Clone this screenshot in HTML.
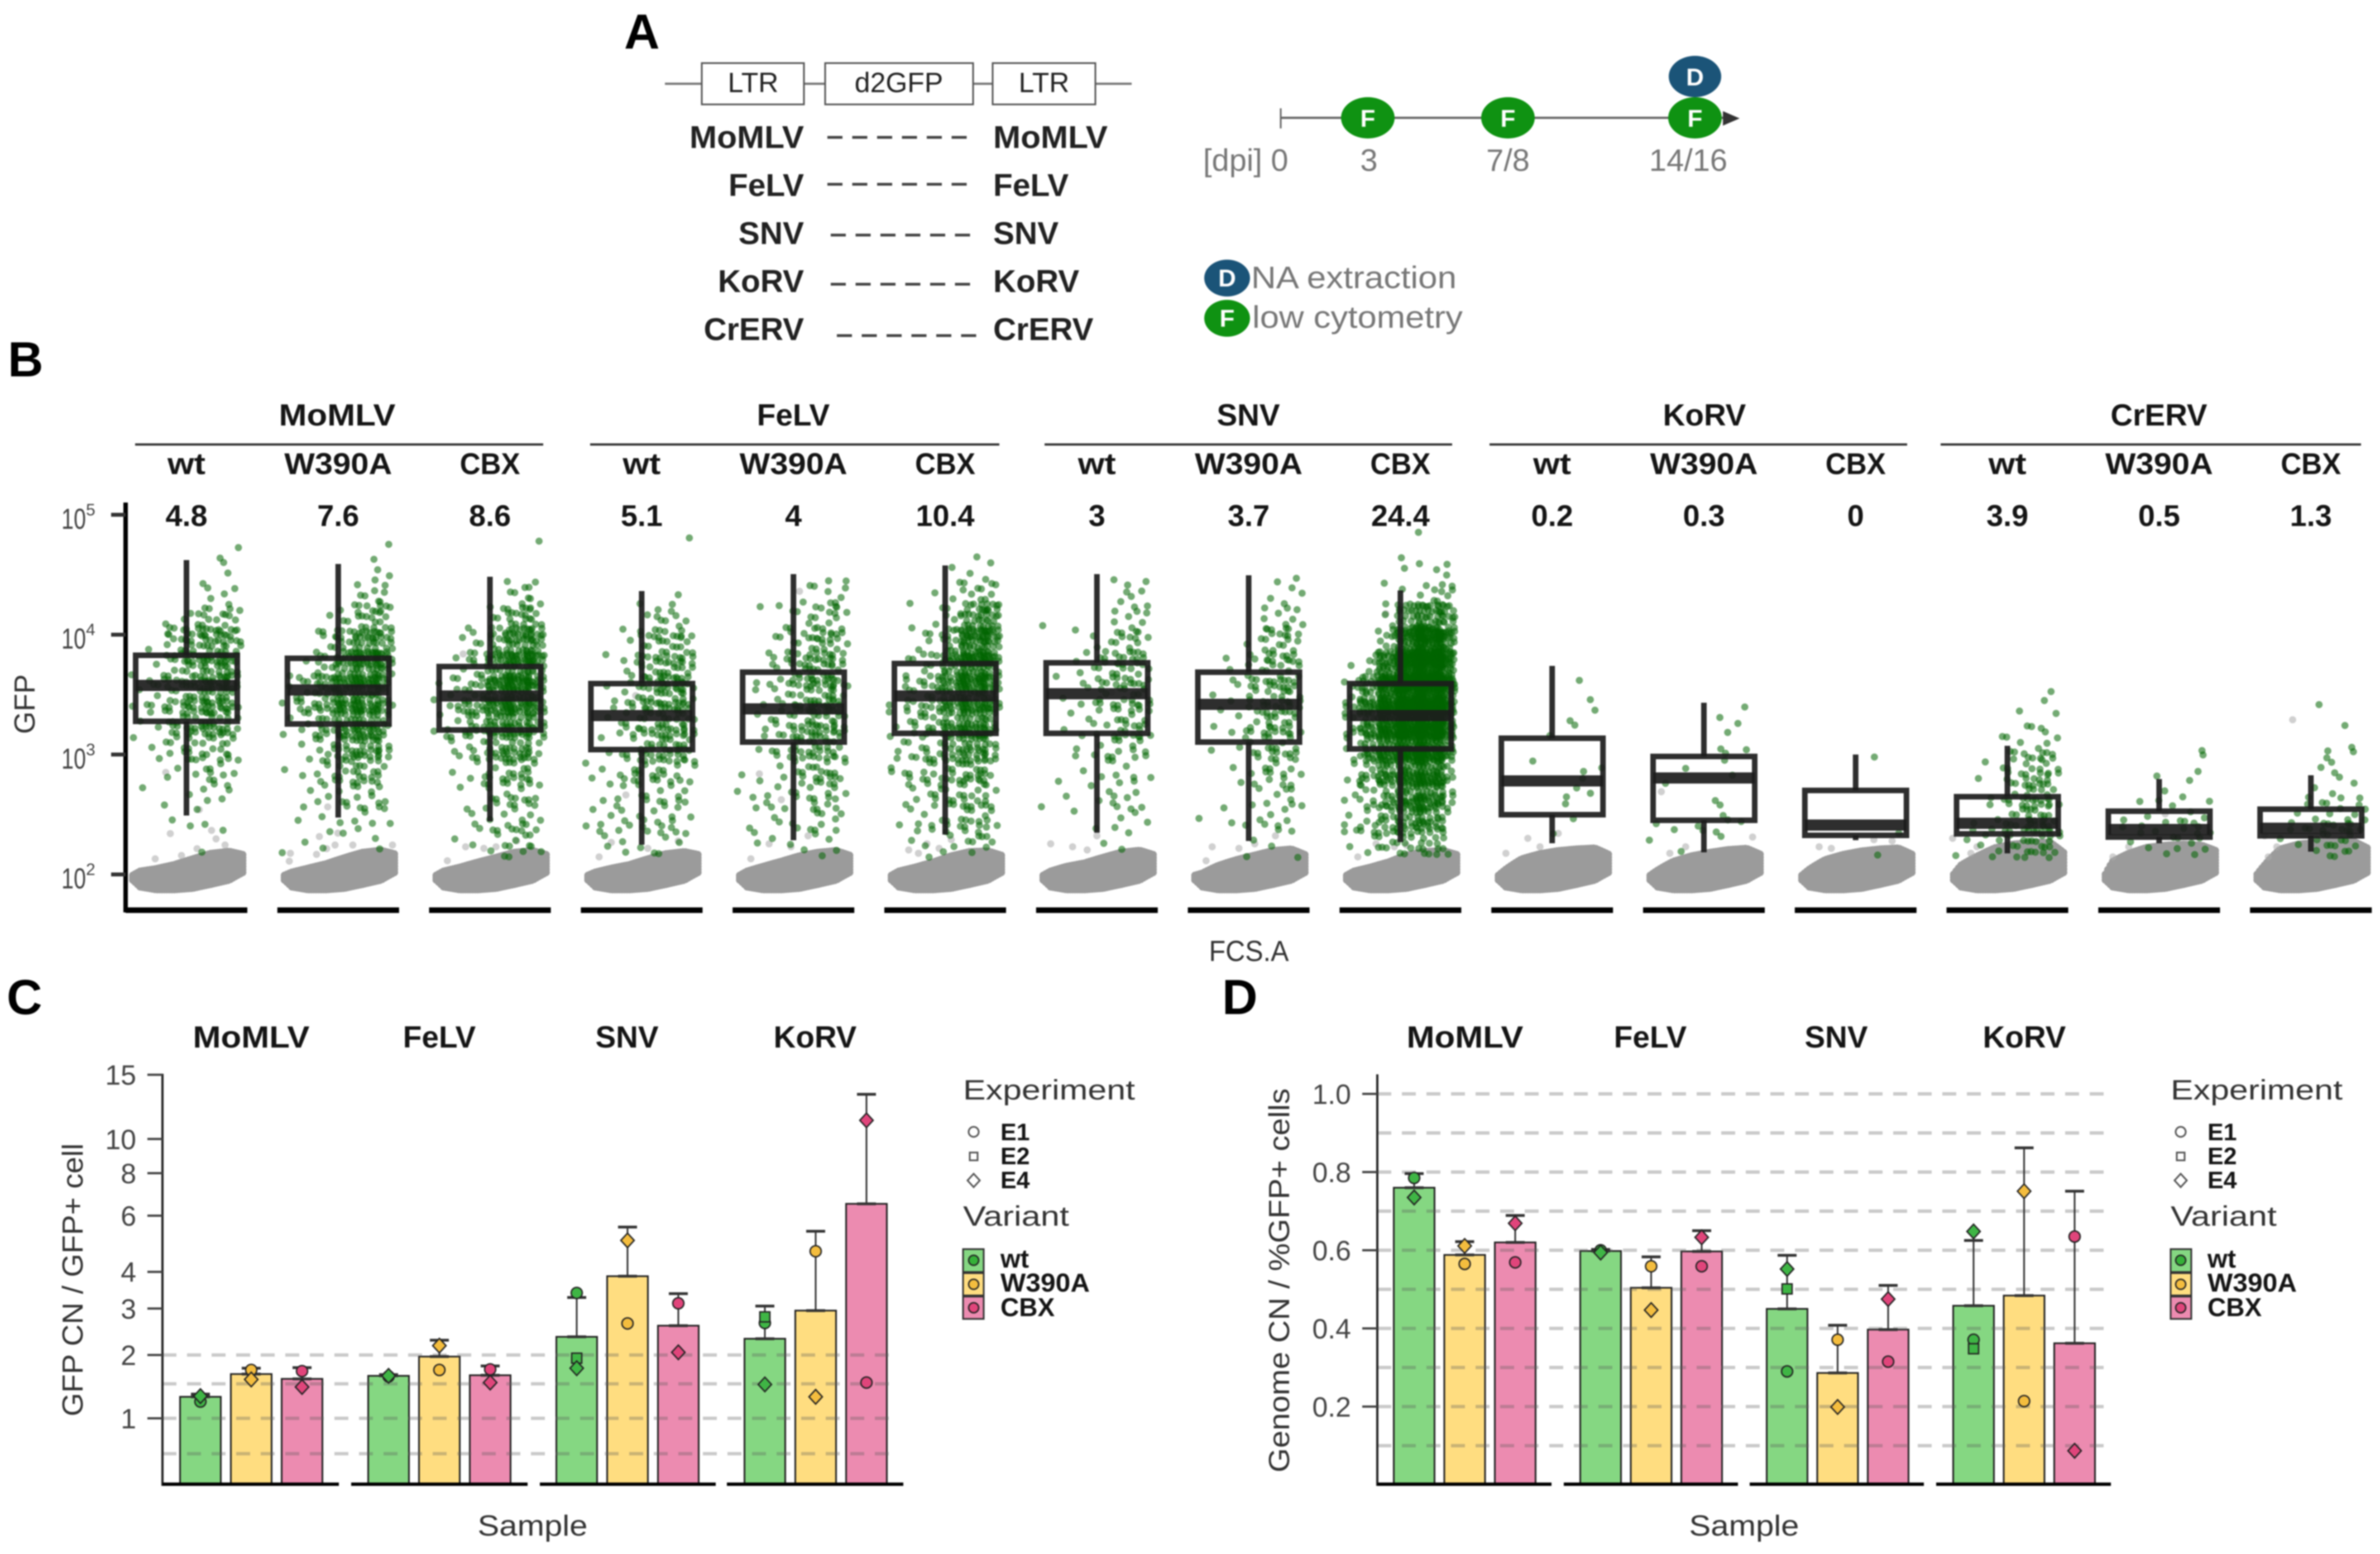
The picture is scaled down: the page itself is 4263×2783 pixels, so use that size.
<!DOCTYPE html>
<html lang="en">
<head>
<meta charset="utf-8">
<title>Retroviral vector GFP expression and copy number figure</title>
<style>
html,body{margin:0;padding:0;background:#fff;}
#figure{display:block;width:4263px;height:2783px;font-family:"Liberation Sans",sans-serif;filter:blur(1.4px);background:#fff;}
.bold{font-weight:bold;fill:#151515;}
.axt{fill:#333;font-size:52px;}
.leg{fill:#333;font-size:50px;}
.key{font-weight:bold;fill:#151515;font-size:43px;}
.keyv{font-weight:bold;fill:#151515;font-size:46px;}
.name{font-weight:bold;fill:#222;font-size:57px;}
.facet{font-weight:bold;fill:#151515;font-size:55px;text-anchor:middle;}
.glab{fill:#777;font-size:56px;}
.circ{fill:#fff;font-size:44px;font-weight:bold;text-anchor:middle;}
</style>
</head>
<body>
<svg id="figure" xmlns="http://www.w3.org/2000/svg" width="4263" height="2783" viewBox="0 0 4263 2783">
  <rect x="0" y="0" width="4263" height="2783" fill="#fff"/>

  <!-- Panel letters -->
  <text x="1118" y="87" font-size="88" font-weight="bold" fill="#000">A</text>
  <text x="14" y="674" font-size="88" font-weight="bold" fill="#000">B</text>
  <text x="12" y="1816" font-size="88" font-weight="bold" fill="#000">C</text>
  <text x="2189" y="1816" font-size="88" font-weight="bold" fill="#000">D</text>

  <!-- Panel A construct -->
  <g>
    <line x1="1191" y1="150" x2="2027" y2="150" stroke="#777" stroke-width="4"/>
    <rect x="1257" y="113" width="183" height="74" fill="#fff" stroke="#555" stroke-width="3"/>
    <rect x="1478" y="113" width="265" height="74" fill="#fff" stroke="#555" stroke-width="3"/>
    <rect x="1778" y="113" width="184" height="74" fill="#fff" stroke="#555" stroke-width="3"/>
    <text x="1349" y="165" font-size="50" fill="#222" text-anchor="middle">LTR</text>
    <text x="1610" y="165" font-size="50" fill="#222" text-anchor="middle">d2GFP</text>
    <text x="1870" y="165" font-size="50" fill="#222" text-anchor="middle">LTR</text>

    <text class="name" x="1440" y="265" text-anchor="end" textLength="205" lengthAdjust="spacingAndGlyphs">MoMLV</text>
    <text class="name" x="1440" y="351" text-anchor="end">FeLV</text>
    <text class="name" x="1440" y="437" text-anchor="end">SNV</text>
    <text class="name" x="1440" y="523" text-anchor="end">KoRV</text>
    <text class="name" x="1440" y="609" text-anchor="end">CrERV</text>
    <text class="name" x="1779" y="265" textLength="205" lengthAdjust="spacingAndGlyphs">MoMLV</text>
    <text class="name" x="1779" y="351">FeLV</text>
    <text class="name" x="1779" y="437">SNV</text>
    <text class="name" x="1779" y="523">KoRV</text>
    <text class="name" x="1779" y="609">CrERV</text>

    <g stroke="#444" stroke-width="5" stroke-dasharray="27 17.5" fill="none">
      <line x1="1482" y1="246" x2="1733" y2="246"/>
      <line x1="1482" y1="330" x2="1733" y2="330"/>
      <line x1="1488" y1="421" x2="1743" y2="421"/>
      <line x1="1488" y1="509" x2="1743" y2="509"/>
      <line x1="1499" y1="601" x2="1752" y2="601"/>
    </g>
  </g>

  <!-- Panel A timeline -->
  <g>
    <line x1="2294" y1="211" x2="3095" y2="211" stroke="#666" stroke-width="4"/>
    <line x1="2294" y1="194" x2="2294" y2="230" stroke="#666" stroke-width="3"/>
    <polygon points="3086,199 3116,212 3086,225" fill="#333"/>
    <ellipse cx="3036" cy="137" rx="47" ry="37" fill="#1b5478"/>
    <text class="circ" x="3036" y="153">D</text>
    <ellipse cx="2450" cy="211" rx="48" ry="37" fill="#0f9212"/>
    <text class="circ" x="2450" y="227">F</text>
    <ellipse cx="2701" cy="211" rx="48" ry="37" fill="#0f9212"/>
    <text class="circ" x="2701" y="227">F</text>
    <ellipse cx="3036" cy="211" rx="48" ry="37" fill="#0f9212"/>
    <text class="circ" x="3036" y="227">F</text>
    <text class="glab" x="2155" y="306">[dpi] 0</text>
    <text class="glab" x="2452" y="306" text-anchor="middle">3</text>
    <text class="glab" x="2701" y="306" text-anchor="middle">7/8</text>
    <text class="glab" x="3024" y="306" text-anchor="middle">14/16</text>
    <ellipse cx="2198" cy="498" rx="41" ry="33" fill="#1b5478"/>
    <text class="circ" x="2198" y="513">D</text>
    <text class="glab" x="2241" y="516" textLength="368" lengthAdjust="spacingAndGlyphs">NA extraction</text>
    <ellipse cx="2198" cy="570" rx="41" ry="33" fill="#0f9212"/>
    <text class="circ" x="2198" y="585">F</text>
    <text class="glab" x="2243" y="587" textLength="377" lengthAdjust="spacingAndGlyphs">low cytometry</text>
  </g>

  <!-- Panel B header -->
  <g>
    <text class="facet" x="604" y="762" textLength="209" lengthAdjust="spacingAndGlyphs">MoMLV</text>
    <text class="facet" x="1421" y="762">FeLV</text>
    <text class="facet" x="2236" y="762">SNV</text>
    <text class="facet" x="3053" y="762">KoRV</text>
    <text class="facet" x="3867" y="762">CrERV</text>
    <g stroke="#333" stroke-width="4">
      <line x1="242" y1="796" x2="973" y2="796"/>
      <line x1="1057" y1="796" x2="1790" y2="796"/>
      <line x1="1871" y1="796" x2="2601" y2="796"/>
      <line x1="2668" y1="796" x2="3416" y2="796"/>
      <line x1="3476" y1="796" x2="4229" y2="796"/>
    </g>
  </g>
  <text class="axt" transform="rotate(-90 62 1261)" x="62" y="1261" text-anchor="middle">GFP</text>
  <text class="axt" x="2237" y="1721" text-anchor="middle" textLength="143" lengthAdjust="spacingAndGlyphs">FCS.A</text>
  <g id="panelB"></g>

  <!-- Panel C -->
  <g>
    <text class="facet" x="450" y="1876" textLength="209" lengthAdjust="spacingAndGlyphs">MoMLV</text>
    <text class="facet" x="787" y="1876">FeLV</text>
    <text class="facet" x="1123" y="1876">SNV</text>
    <text class="facet" x="1460" y="1876">KoRV</text>
  </g>
  <text class="axt" transform="rotate(-90 148 2292)" x="148" y="2292" text-anchor="middle" textLength="489" lengthAdjust="spacingAndGlyphs">GFP CN / GFP+ cell</text>
  <text class="axt" x="954" y="2750" text-anchor="middle" textLength="197" lengthAdjust="spacingAndGlyphs">Sample</text>
  <g id="panelC"></g>

  <!-- Panel D -->
  <g>
    <text class="facet" x="2624" y="1876" textLength="209" lengthAdjust="spacingAndGlyphs">MoMLV</text>
    <text class="facet" x="2956" y="1876">FeLV</text>
    <text class="facet" x="3289" y="1876">SNV</text>
    <text class="facet" x="3626" y="1876">KoRV</text>
  </g>
  <text class="axt" transform="rotate(-90 2309 2293)" x="2309" y="2293" text-anchor="middle" textLength="688" lengthAdjust="spacingAndGlyphs">Genome CN / %GFP+ cells</text>
  <text class="axt" x="3124" y="2750" text-anchor="middle" textLength="197" lengthAdjust="spacingAndGlyphs">Sample</text>
  <g id="panelD"></g>

  <!-- Legend C -->
  <g>
    <text class="leg" x="1725" y="1969" textLength="308" lengthAdjust="spacingAndGlyphs">Experiment</text>
    <circle cx="1744" cy="2027" r="9" fill="#fff" stroke="#555" stroke-width="3"/>
    <rect x="1737" y="2064" width="14" height="14" fill="#fff" stroke="#555" stroke-width="3"/>
    <polygon points="1744,2102 1755,2114 1744,2126 1733,2114" fill="#fff" stroke="#555" stroke-width="3"/>
    <text class="key" x="1792" y="2042">E1</text>
    <text class="key" x="1792" y="2085">E2</text>
    <text class="key" x="1792" y="2128">E4</text>
    <text class="leg" x="1725" y="2195" textLength="190" lengthAdjust="spacingAndGlyphs">Variant</text>
    <rect x="1725" y="2237" width="37" height="41" fill="#85d782" stroke="#333" stroke-width="3"/>
    <circle cx="1744" cy="2257" r="9" fill="#35b038" stroke="#222" stroke-width="2.5"/>
    <rect x="1725" y="2280" width="37" height="40" fill="#ffdd80" stroke="#333" stroke-width="3"/>
    <circle cx="1744" cy="2300" r="9" fill="#f4bd3e" stroke="#222" stroke-width="2.5"/>
    <rect x="1725" y="2322" width="37" height="40" fill="#ec8bb0" stroke="#333" stroke-width="3"/>
    <circle cx="1744" cy="2342" r="9" fill="#e0457b" stroke="#222" stroke-width="2.5"/>
    <text class="keyv" x="1792" y="2270">wt</text>
    <text class="keyv" x="1792" y="2313" textLength="160" lengthAdjust="spacingAndGlyphs">W390A</text>
    <text class="keyv" x="1792" y="2357">CBX</text>
  </g>

  <!-- Legend D -->
  <g>
    <text class="leg" x="3888" y="1969" textLength="308" lengthAdjust="spacingAndGlyphs">Experiment</text>
    <circle cx="3906" cy="2027" r="9" fill="#fff" stroke="#555" stroke-width="3"/>
    <rect x="3899" y="2064" width="14" height="14" fill="#fff" stroke="#555" stroke-width="3"/>
    <polygon points="3906,2102 3917,2114 3906,2126 3895,2114" fill="#fff" stroke="#555" stroke-width="3"/>
    <text class="key" x="3954" y="2042">E1</text>
    <text class="key" x="3954" y="2085">E2</text>
    <text class="key" x="3954" y="2128">E4</text>
    <text class="leg" x="3888" y="2195" textLength="190" lengthAdjust="spacingAndGlyphs">Variant</text>
    <rect x="3888" y="2237" width="37" height="41" fill="#85d782" stroke="#333" stroke-width="3"/>
    <circle cx="3906" cy="2257" r="9" fill="#35b038" stroke="#222" stroke-width="2.5"/>
    <rect x="3888" y="2280" width="37" height="40" fill="#ffdd80" stroke="#333" stroke-width="3"/>
    <circle cx="3906" cy="2300" r="9" fill="#f4bd3e" stroke="#222" stroke-width="2.5"/>
    <rect x="3888" y="2322" width="37" height="40" fill="#ec8bb0" stroke="#333" stroke-width="3"/>
    <circle cx="3906" cy="2342" r="9" fill="#e0457b" stroke="#222" stroke-width="2.5"/>
    <text class="keyv" x="3954" y="2270">wt</text>
    <text class="keyv" x="3954" y="2313" textLength="160" lengthAdjust="spacingAndGlyphs">W390A</text>
    <text class="keyv" x="3954" y="2357">CBX</text>
  </g>
</svg>

<script>
/* ---------- Panel B data ---------- */
const sampleLabels = ['wt','W390A','CBX','wt','W390A','CBX','wt','W390A','CBX','wt','W390A','CBX','wt','W390A','CBX'];
const percentLabels = ['4.8','7.6','8.6','5.1','4','10.4','3','3.7','24.4','0.2','0.3','0','3.9','0.5','1.3'];
const whiskerHigh = [41900,38900,30400,23100,32000,37800,32000,31300,23400,5490,2704,1000,1183,625,672];
const boxQ3 = [6730,6350,5420,3908,4865,5745,5825,4865,3908,1368,964,502,445,337,350];
const boxMedian = [3770,3457,3080,2113,2403,3080,3214,2622,2113,603,638,258,267,237,243];
const boxQ1 = [1893,1799,1603,1100,1271,1503,1503,1271,1114,315,283,212,218,205,210];
const whiskerLow = [310,298,277,177,193,215,223,190,186,182,153,193,150,182,155];
const gfpTickExponents = [2,3,4,5];

/* GFP+ event counts per bin: rows are log10(GFP) bin centres, columns are six FCS.A bins */
const gfpBinCentres = [4.7,4.5,4.3,4.1,3.9,3.7,3.5,3.3,3.1,2.9,2.7,2.5,2.3];
const countsMoMLVwt = [[0,0,0,0,1,1],[0,0,0,1,1,1],[0,0,0,2,2,4],[0,1,2,8,9,8],[0,2,10,16,20,14],[1,4,9,16,22,13],[3,6,11,16,20,11],[3,5,9,16,18,9],[0,4,7,11,11,5],[0,0,2,5,4,2],[1,1,1,3,2,2],[0,0,1,2,1,0],[0,0,0,1,2,0]];
const countsMoMLVw390 = [[0,0,0,0,0,1],[0,0,0,0,1,3],[0,0,0,1,5,6],[0,1,4,6,13,9],[0,0,4,16,30,18],[0,3,12,28,34,18],[5,10,20,30,32,15],[4,8,15,26,26,12],[0,3,6,18,20,8],[1,2,6,12,14,4],[0,5,3,5,8,2],[0,0,2,2,5,2],[1,2,2,1,1,1]];
const countsMoMLVcbx = [[0,0,0,0,0,1],[0,0,0,0,0,0],[0,0,0,2,7,6],[0,1,1,6,15,11],[0,3,5,18,30,18],[0,4,8,30,40,22],[3,10,12,34,38,19],[3,7,14,28,30,15],[2,3,8,20,22,9],[0,3,3,8,12,6],[0,2,2,5,8,3],[0,1,3,5,6,3],[0,1,2,5,8,5]];
const countsFeLVwt = [[0,0,0,0,0,1],[0,0,0,0,0,0],[0,0,0,0,3,0],[0,0,0,5,6,3],[0,0,4,9,12,9],[0,2,4,11,16,9],[0,3,6,13,16,9],[0,3,8,15,16,8],[0,2,7,13,15,6],[1,3,5,8,10,4],[1,4,2,6,7,2],[3,3,2,4,5,2],[2,3,3,4,4,1]];
const countsFeLVw390 = [[0,0,0,0,0,0],[0,0,0,0,0,1],[0,1,0,2,6,3],[0,0,3,5,11,5],[0,2,4,7,14,7],[0,3,4,11,16,9],[0,3,5,11,18,10],[0,3,6,13,16,9],[0,3,5,13,15,6],[0,2,4,8,10,5],[3,3,3,6,8,3],[1,2,2,3,7,2],[1,1,2,3,4,0]];
const countsFeLVcbx = [[0,0,0,0,0,0],[0,0,0,1,3,3],[0,1,1,3,7,7],[0,0,3,10,26,20],[0,3,5,20,46,26],[1,5,10,28,44,24],[2,6,10,24,36,20],[3,7,12,26,34,18],[3,6,8,18,26,11],[4,5,6,10,14,6],[3,4,6,8,12,5],[1,4,3,5,8,3],[0,4,3,4,8,4]];
const countsSNVwt = [[0,0,0,0,0,0],[0,0,0,0,1,1],[0,0,0,0,4,3],[1,0,0,1,5,4],[0,1,3,4,8,6],[0,2,3,6,11,6],[0,2,3,7,11,6],[0,2,3,6,9,5],[0,0,2,4,8,5],[0,1,2,3,5,2],[1,1,1,2,3,2],[0,1,1,2,3,1],[0,0,0,1,3,1]];
const countsSNVw390 = [[0,0,0,0,0,0],[0,0,0,0,0,1],[0,0,0,0,3,3],[0,0,0,1,6,5],[0,0,1,3,10,8],[0,2,2,7,11,7],[0,1,3,7,12,8],[0,2,3,8,13,6],[0,0,3,6,10,5],[1,0,2,4,8,3],[0,0,1,3,5,2],[1,1,0,3,4,2],[0,1,0,2,3,1]];
const countsSNVcbx = [[0,0,0,0,1,0],[0,0,1,1,2,5],[0,0,1,3,6,6],[0,0,6,30,42,20],[0,1,14,70,95,35],[3,10,60,115,120,50],[8,34,75,120,120,50],[12,34,65,100,100,38],[8,26,48,75,75,25],[5,16,30,52,52,14],[3,10,22,36,36,9],[2,8,15,26,28,5],[3,6,8,14,18,3]];
const countsKoRVwt = [[0,0,0,0,0,0],[0,0,0,0,0,0],[0,0,0,0,0,0],[0,0,0,0,0,0],[0,0,0,0,0,0],[0,0,0,0,1,0],[0,0,0,0,0,0],[0,0,0,1,1,1],[0,0,0,1,1,0],[0,0,1,0,1,1],[0,0,0,1,3,0],[0,0,0,2,0,0],[0,0,0,1,0,0]];
const countsKoRVw390 = [[0,0,0,0,0,0],[0,0,0,0,0,0],[0,0,0,0,0,0],[0,0,0,0,0,0],[0,0,0,0,0,0],[0,0,0,0,0,0],[0,0,0,0,0,0],[0,0,0,1,2,0],[0,0,0,2,1,1],[0,1,0,0,2,0],[0,1,0,1,0,0],[0,0,1,2,2,0],[2,2,0,1,2,0]];
const countsKoRVcbx = [[0,0,0,0,0,0],[0,0,0,0,0,0],[0,0,0,0,0,0],[0,0,0,0,0,0],[0,0,0,0,0,0],[0,0,0,0,0,0],[0,0,0,0,0,0],[0,0,0,0,0,0],[0,0,0,0,1,0],[0,0,0,0,0,0],[0,0,0,0,0,0],[0,0,0,0,0,0],[0,0,0,0,2,0]];
const countsCrERVwt = [[0,0,0,0,0,0],[0,0,0,0,0,0],[0,0,0,0,0,0],[0,0,0,0,0,0],[0,0,0,0,0,0],[0,0,0,0,0,0],[0,0,0,0,0,2],[0,0,0,1,1,1],[0,0,1,4,4,4],[0,2,2,6,12,4],[0,0,3,6,14,4],[0,1,4,8,16,6],[1,3,8,10,16,6]];
const countsCrERVw390 = [[0,0,0,0,0,0],[0,0,0,0,0,0],[0,0,0,0,0,0],[0,0,0,0,0,0],[0,0,0,0,0,0],[0,0,0,0,0,0],[0,0,0,0,0,0],[0,0,0,0,0,0],[0,0,0,0,1,0],[0,0,0,1,0,2],[0,0,1,1,2,0],[0,1,2,3,3,3],[0,2,3,3,5,4]];
const countsCrERVcbx = [[0,0,0,0,0,0],[0,0,0,0,0,0],[0,0,0,0,0,0],[0,0,0,0,0,0],[0,0,0,0,0,0],[0,0,0,0,0,0],[0,0,0,0,0,0],[0,0,0,1,0,0],[0,0,0,1,2,0],[0,0,0,3,1,1],[0,0,0,2,2,2],[0,0,2,5,6,5],[0,1,3,7,9,6]];
const greenBinCounts = [countsMoMLVwt,countsMoMLVw390,countsMoMLVcbx,countsFeLVwt,countsFeLVw390,countsFeLVcbx,countsSNVwt,countsSNVw390,countsSNVcbx,countsKoRVwt,countsKoRVw390,countsKoRVcbx,countsCrERVwt,countsCrERVw390,countsCrERVcbx];

/* GFP-negative population: FCS.A fractions and upper / lower GFP envelope */
const negativeFcs = [0.06,0.12,0.25,0.40,0.55,0.70,0.85,0.96];
const negativeLower = [90,79,75,75,77,83,90,104];
const negativeUpper = [
 [98,106,111,120,134,149,155,146],[98,104,112,122,137,152,158,148],[98,106,114,126,138,152,157,146],
 [98,104,112,120,134,148,154,146],[98,106,116,128,142,152,157,144],[98,106,114,126,142,154,156,144],
 [98,106,116,124,138,152,158,146],[98,102,118,132,144,157,162,146],[98,106,114,126,144,154,157,146],
 [98,110,134,148,157,162,165,147],[98,108,128,142,152,160,164,147],[98,110,132,146,156,162,165,147],
 [100,119,141,166,178,184,184,152],[100,128,149,167,174,178,174,158],[100,119,162,178,184,186,188,166]
];
/* sparse GFP-negative events above the main population: [panel, FCS fraction, GFP] */
const negativeStray = [
 [0,0.367,219],[0,0.706,233],[0,0.605,347],[0,0.587,164],[0,0.743,198],[0,0.817,176],[0,0.243,135],[0,0.459,144],[0,0.33,710],
 [1,0.414,366],[1,0.345,207],[1,0.497,221],[1,0.474,176],[1,0.405,164],[1,0.107,150],[1,0.098,129],[1,0.322,147],[1,0.62,176],[1,0.946,176],
 [2,0.28,6900],[2,0.30,170],[2,0.45,165],[2,0.72,190],[2,0.15,130],[2,0.55,170],
 [3,0.45,3100],[3,0.37,460],[3,0.25,185],[3,0.80,190],[3,0.15,140],[3,0.55,165],
 [4,0.55,23000],[4,0.22,690],[4,0.40,420],[4,0.30,180],[4,0.62,210],[4,0.15,135],[4,0.48,170],
 [5,0.20,160],[5,0.35,180],[5,0.55,195],[5,0.70,11000],[5,0.45,165],[5,0.28,150],
 [6,0.12,180],[6,0.30,170],[6,0.50,210],[6,0.62,3300],[6,0.42,160],
 [7,0.20,170],[7,0.42,165],[7,0.72,210],[7,0.15,130],[7,0.55,180],
 [8,0.38,15000],[8,0.30,180],[8,0.45,170],[8,0.72,1100],[8,0.15,140],[8,0.55,175],
 [9,0.30,200],[9,0.55,220],[9,0.40,170],[9,0.12,150],
 [10,0.15,490],[10,0.35,170],[10,0.90,205],[10,0.22,150],
 [11,0.20,170],[11,0.65,195],[11,0.80,190],[11,0.30,165],
 [12,0.05,200],[12,0.25,170],[12,0.20,150],
 [13,0.55,320],[13,0.25,170],[13,0.12,140],
 [14,0.35,1950],[14,0.22,170],[14,0.12,210],[14,0.15,140]
];

/* ---------- Panel C data ---------- */
const cnTickValues = [15,10,8,6,4,3,2,1];
const cnGridValues = [2,1.5,1,0.58];
const cnMeans = [1.30,1.66,1.58,1.63,1.97,1.64,2.36,3.87,2.60,2.32,2.95,6.51];
const cnErrorTops = [1.34,1.76,1.77,1.65,2.29,1.80,3.28,5.54,3.38,3.06,5.38,13.28];
const cnE1 = [1.23,1.73,1.71,1.62,1.73,1.74,3.40,2.65,3.13,2.66,4.66,1.52];
const cnE2 = [null,null,null,null,null,null,1.94,null,null,2.80,null,null];
const cnE4 = [1.31,1.57,1.45,1.63,2.18,1.52,1.76,5.04,2.05,1.49,1.30,11.27];

/* ---------- Panel D data ---------- */
const genomeTickValues = [1.0,0.8,0.6,0.4,0.2];
const genomeGridValues = [1.0,0.9,0.8,0.7,0.6,0.5,0.4,0.3,0.2,0.1];
const genomeMeans = [0.76,0.588,0.62,0.598,0.504,0.597,0.45,0.286,0.397,0.458,0.484,0.362];
const genomeErrorTops = [0.796,0.622,0.689,0.602,0.583,0.65,0.587,0.408,0.51,0.625,0.862,0.751];
const genomeE1 = [0.785,0.565,0.569,0.60,0.559,0.559,0.29,0.371,0.315,0.371,0.214,0.635];
const genomeE2 = [null,null,null,null,null,null,0.501,null,null,0.348,null,null];
const genomeE4 = [0.735,0.611,0.669,0.594,0.447,0.633,0.552,0.199,0.475,0.648,0.751,0.087];

/* ---------- Shared helpers ---------- */
const SVGNS = 'http://www.w3.org/2000/svg';
function mk(parent, tag, attrs, text) {
  const el = document.createElementNS(SVGNS, tag);
  for (const k in attrs) el.setAttribute(k, attrs[k]);
  if (text !== undefined) el.textContent = text;
  parent.appendChild(el);
  return el;
}
function frac(v) { return v - Math.floor(v); }
function line(parent, x1, y1, x2, y2, stroke, width, extra) {
  return mk(parent, 'line', Object.assign({x1:x1, y1:y1, x2:x2, y2:y2, stroke:stroke, 'stroke-width':width}, extra || {}));
}

/* ---------- Panel B ---------- */
const panelB = document.getElementById('panelB');
function xB(panel, f) { return 225 + 271.8 * panel + f * 218; }
function yB(gfp) { return 1566 - (Math.log10(gfp) - 2) * 214.7; }
function lerpArr(xs, ys, x) {
  if (x <= xs[0]) return ys[0];
  for (let i = 1; i < xs.length; i++) {
    if (x <= xs[i]) { const t = (x - xs[i-1]) / (xs[i] - xs[i-1]); return ys[i-1] + t * (ys[i] - ys[i-1]); }
  }
  return ys[ys.length - 1];
}
const labelWidth = {wt:68, W390A:193, CBX:108};

function drawPanelB() {
  const axisLine = mk(panelB, 'line', {x1:225, y1:900, x2:225, y2:1634, stroke:'#000', 'stroke-width':8});
  
  

  gfpTickExponents.forEach(function (e) {
    const y = yB(Math.pow(10, e));
    const tick = line(panelB, 199, y, 225, y, '#333', 7);
    
    
    const base = mk(panelB, 'text', {x:110, y:y + 25, 'font-size':52, fill:'#444', textLength:44, lengthAdjust:'spacingAndGlyphs'}, '10');
    
    
    const sup = mk(panelB, 'text', {x:154, y:y + 1, 'font-size':30, fill:'#444'}, String(e));
    
    
  });

  sampleLabels.forEach(function (label, p) {
    const cx = xB(p, 0.5);

    const sampleText = mk(panelB, 'text', {x:cx, y:849, 'text-anchor':'middle', 'font-size':54, 'font-weight':'bold', fill:'#151515', textLength:labelWidth[label], lengthAdjust:'spacingAndGlyphs'}, label);
    
    
    const pctText = mk(panelB, 'text', {x:cx, y:942, 'text-anchor':'middle', 'font-size':54, 'font-weight':'bold', fill:'#151515'}, percentLabels[p]);
    
    

    const xAxis = mk(panelB, 'rect', {x:xB(p, 0), y:1625, width:218, height:10, fill:'#000'});
    
    

    /* negative population */
    const grayGroup = mk(panelB, 'g', {fill:'#9b9b9b'});
    
    
    for (let f = negativeFcs[0]; f <= negativeFcs[negativeFcs.length - 1] + 0.001; f += 0.02) {
      const topPx = yB(lerpArr(negativeFcs, negativeUpper[p], f));
      const botPx = yB(lerpArr(negativeFcs, negativeLower, f));
      const steps = Math.max(1, Math.ceil((botPx - topPx) / 6));
      for (let s = 0; s <= steps; s++) {
        const dot = mk(grayGroup, 'circle', {cx:xB(p, f), cy:topPx + (botPx - topPx) * s / steps, r:7});
        
        
      }
    }

    negativeStray.filter(function (s) { return s[0] === p; }).forEach(function (s) {
      const dot = mk(panelB, 'circle', {cx:xB(s[0], s[1]), cy:yB(s[2]), r:6.4, fill:'#aaa', 'fill-opacity':0.55});
      
      
    });

    /* positive population: counts per bin spread evenly around the bin */
    const greenGroup = mk(panelB, 'g', {fill:'#006400', 'fill-opacity':0.55});
    
    
    greenBinCounts[p].forEach(function (row, r) {
      row.forEach(function (count, c) {
        for (let k = 0; k < count; k++) {
          const seq = k + 3 + p * 37 + r * 211 + c * 97;
          const spread = (c === 5) ? 1.1 : 1.5;
          const cellX = c - 0.25 + spread * frac(0.5 + seq * 0.7548776662);
          const fx = Math.min(0.97, Math.max(0.04, 0.05 + cellX * (0.92 / 6)));
          const lg = gfpBinCentres[r] - 0.16 + 0.32 * frac(0.5 + seq * 0.5698402910);
          const dot = mk(greenGroup, 'circle', {cx:xB(p, fx), cy:yB(Math.pow(10, lg)), r:6.4});
          
          
        }
      });
    });

    /* box plot */
    const boxGroup = mk(panelB, 'g', {stroke:'#1c1c1c', 'stroke-opacity':0.92, fill:'none'});
    
    
    const wTop = line(boxGroup, cx, yB(whiskerHigh[p]), cx, yB(boxQ3[p]), '#1c1c1c', 10);
    
    
    const wBot = line(boxGroup, cx, yB(boxQ1[p]), cx, yB(whiskerLow[p]), '#1c1c1c', 10);
    
    
    const box = mk(boxGroup, 'rect', {x:cx - 91, y:yB(boxQ3[p]), width:182, height:yB(boxQ1[p]) - yB(boxQ3[p]), 'stroke-width':10});
    
    
    const med = line(boxGroup, cx - 91, yB(boxMedian[p]), cx + 91, yB(boxMedian[p]), '#1c1c1c', 20);
    
    
  });
}
drawPanelB();

/* ---------- Panels C and D ---------- */
const barFills = ['#85d782','#ffdd80','#ec8bb0'];
const pointFills = ['#3fb545','#f4bd3e','#e0457b'];

function drawBarPanel(cfg) {
  const g = cfg.group;
  const baseY = cfg.baseY;
  function xBar(i) {
    const facet = Math.floor(i / 3);
    return cfg.x0 + facet * cfg.facetStep + (i % 3) * cfg.barStep;
  }

  cfg.means.forEach(function (m, i) {
    const x = xBar(i);
    const top = cfg.y(m);
    const bar = mk(g, 'rect', {x:x - 36.5, y:top, width:73, height:baseY - top, fill:barFills[i % 3], stroke:'#222', 'stroke-width':3});
    
    
  });

  cfg.grid.forEach(function (v) {
    const gl = line(g, cfg.gridX1, cfg.y(v), cfg.gridX2, cfg.y(v), 'rgb(90,90,90)', 6, {'stroke-opacity':0.32, 'stroke-dasharray':'25 19'});
    
    
  });

  cfg.means.forEach(function (m, i) {
    const x = xBar(i);
    const top = cfg.y(m);
    const et = cfg.y(cfg.errs[i]);
    const stem = line(g, x, top, x, et, '#333', 3);
    
    
    const capT = line(g, x - 17, et, x + 17, et, '#333', 5);
    
    
    const capB = line(g, x - 17, top, x + 17, top, '#333', 5);
    
    
  });

  cfg.means.forEach(function (m, i) {
    const x = xBar(i);
    const fill = pointFills[i % 3];
    if (cfg.e1[i] !== null) {
      const pt = mk(g, 'circle', {cx:x, cy:cfg.y(cfg.e1[i]), r:10, fill:fill, stroke:'#222', 'stroke-width':2.5});
      
      
    }
    if (cfg.e2[i] !== null) {
      const yy = cfg.y(cfg.e2[i]);
      const pt = mk(g, 'rect', {x:x - 9, y:yy - 9, width:18, height:18, fill:fill, stroke:'#222', 'stroke-width':2.5});
      
      
    }
    if (cfg.e4[i] !== null) {
      const yy = cfg.y(cfg.e4[i]);
      const pts = [x, yy - 13, x + 12, yy, x, yy + 13, x - 12, yy].join(',');
      const pt = mk(g, 'polygon', {points:pts, fill:fill, stroke:'#222', 'stroke-width':2.5});
      
      
    }
  });

  const yAxis = line(g, cfg.axisX, cfg.axisTop, cfg.axisX, baseY + 3, '#222', 4);
  
  

  cfg.ticks.forEach(function (v) {
    const y = cfg.y(v);
    const tick = line(g, cfg.axisX - 27, y, cfg.axisX, y, '#444', 4);
    
    
    const lab = mk(g, 'text', {x:cfg.axisX - 47, y:y + 18, 'text-anchor':'end', 'font-size':50, fill:'#444'}, cfg.format(v));
    
    
  });

  cfg.baseSegments.forEach(function (seg) {
    const s = line(g, seg[0], baseY, seg[1], baseY, '#000', 6);
    
    
  });
}

drawBarPanel({
  group: document.getElementById('panelC'),
  baseY: 2658, axisX: 291, axisTop: 1923,
  x0: 359, barStep: 91, facetStep: 337,
  gridX1: 291, gridX2: 1607,
  y: function (v) { return 2540 - (Math.log10(v + 1.3) - Math.log10(2.3)) * 723.5; },
  means: cnMeans, errs: cnErrorTops, e1: cnE1, e2: cnE2, e4: cnE4,
  grid: cnGridValues, ticks: cnTickValues,
  format: function (v) { return String(v); },
  baseSegments: [[291,607],[629,945],[967,1282],[1302,1618]]
});

drawBarPanel({
  group: document.getElementById('panelD'),
  baseY: 2658, axisX: 2467, axisTop: 1924,
  x0: 2533, barStep: 90.5, facetStep: 334,
  gridX1: 2467, gridX2: 3777,
  y: function (v) { return 2659 - 700 * v; },
  means: genomeMeans, errs: genomeErrorTops, e1: genomeE1, e2: genomeE2, e4: genomeE4,
  grid: genomeGridValues, ticks: genomeTickValues,
  format: function (v) { return v.toFixed(1); },
  baseSegments: [[2467,2779],[2801,3113],[3134,3446],[3468,3781]]
});
</script>
</body>
</html>
